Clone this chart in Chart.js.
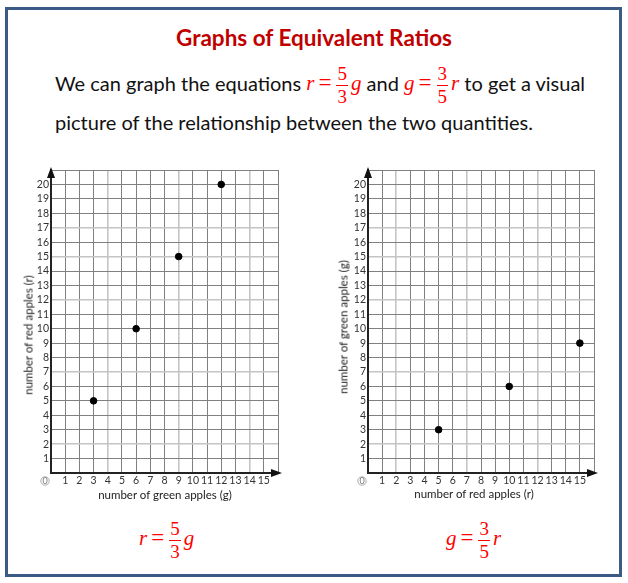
<!DOCTYPE html>
<html>
<head>
<meta charset="utf-8">
<script src="https://cdn.jsdelivr.net/npm/chart.js@4/dist/chart.umd.min.js"></script>
<style>
  html, body { margin: 0; padding: 0; background: #fff; }
  body { width: 628px; height: 583px; position: relative; overflow: hidden; font-family: Lato, "Open Sans", sans-serif; }
  #frame { position: absolute; left: 5px; top: 7px; width: 611px; height: 564px; border: 3px solid #3c5a86; }
  .abs { position: absolute; white-space: nowrap; }
  #title { left: 0; width: 628px; top: 24px; text-align: center; color: #c00000; font-weight: bold; font-size: 22.5px; }
  .para { left: 55px; font-size: 20px; color: #111; }
  .eq { font-family: "Liberation Serif", "DejaVu Serif", serif; font-style: italic; color: #ff0000; font-size: 21px; display: inline-block; vertical-align: middle; line-height: 20px; }
  .eq .op { font-style: normal; font-size: 23px; margin: 0 3px 0 4px; }
  .frac { display: inline-block; vertical-align: middle; text-align: center; font-style: normal; font-size: 19px; line-height: 20px; margin: 0 3px 0 2px; }
  .frac .num { display: block; border-bottom: 1px solid #ff0000; padding: 0 1px 1px; }
  .frac .den { display: block; padding-top: 1px; }
  canvas { position: absolute; }
  .axt { position: absolute; font-size: 11.5px; color: #222; white-space: nowrap; }
  .rot { transform-origin: center center; transform: translate(-50%, -50%) rotate(-90deg); }
  .hor { transform: translate(-50%, -50%); }
</style>
</head>
<body>
<div id="frame"></div>
<div id="title" class="abs">Graphs of Equivalent Ratios</div>
<div class="abs para" style="top:64px;">We can graph the equations <span class="eq">r<span class="op">=</span><span class="frac"><span class="num">5</span><span class="den">3</span></span>g</span> and <span class="eq">g<span class="op">=</span><span class="frac"><span class="num">3</span><span class="den">5</span></span>r</span> to get a visual</div>
<div class="abs para" style="top:110px;">picture of the relationship between the two quantities.</div>

<canvas id="c1" width="300" height="360" style="left:0px; top:150px;"></canvas>
<canvas id="c2" width="310" height="360" style="left:310px; top:150px;"></canvas>

<div class="axt rot" style="left:28px; top:335px;">number of red apples (r)</div>
<div class="axt hor" style="left:165px; top:494px;">number of green apples (g)</div>
<div class="axt rot" style="left:343px; top:327px;">number of green apples (g)</div>
<div class="axt hor" style="left:474px; top:493px;">number of red apples (r)</div>

<div class="abs" style="left:139px; top:519px;"><span class="eq">r<span class="op">=</span><span class="frac"><span class="num">5</span><span class="den">3</span></span>g</span></div>
<div class="abs" style="left:446px; top:519px;"><span class="eq">g<span class="op">=</span><span class="frac"><span class="num">3</span><span class="den">5</span></span>r</span></div>

<script>
// Data
const greenApples1 = [3, 6, 9, 12];
const redApples1   = [5, 10, 15, 20];
const redApples2   = [5, 10, 15];
const greenApples2 = [3, 6, 9];
const xTickLabels = [1,2,3,4,5,6,7,8,9,10,11,12,13,14,15];
const yTickLabels = [1,2,3,4,5,6,7,8,9,10,11,12,13,14,15,16,17,18,19,20];
const xMax = 16, yMax = 21;

const DARK = '#808080', LIGHT = '#c4c4c4';

const arrowPlugin = {
  id: 'arrows',
  afterDraw(chart) {
    const {ctx, chartArea: a} = chart;
    ctx.save();
    ctx.fillStyle = '#111';
    ctx.beginPath();
    ctx.moveTo(a.left, a.top - 3);
    ctx.lineTo(a.left - 4, a.top + 8);
    ctx.lineTo(a.left + 4, a.top + 8);
    ctx.closePath(); ctx.fill();
    ctx.beginPath();
    ctx.moveTo(a.right + 4, a.bottom);
    ctx.lineTo(a.right - 7, a.bottom - 4);
    ctx.lineTo(a.right - 7, a.bottom + 4);
    ctx.closePath(); ctx.fill();
    // origin label
    ctx.fillStyle = '#777';
    ctx.font = '9px Lato, sans-serif';
    ctx.textAlign = 'center'; ctx.textBaseline = 'middle';
    ctx.fillText('0', a.left - 6, a.bottom + 8);
    ctx.strokeStyle = '#999'; ctx.lineWidth = 0.8;
    ctx.beginPath(); ctx.arc(a.left - 6, a.bottom + 8, 4.2, 0, Math.PI * 2); ctx.stroke();
    ctx.restore();
  }
};

function makeChart(id, xs, ys, yAxisWidth, padRight, lightX, lightY) {
  const pts = xs.map((x, i) => ({x, y: ys[i]}));
  return new Chart(document.getElementById(id), {
    type: 'scatter',
    data: { datasets: [{ data: pts, backgroundColor: '#000', borderColor: '#000', pointRadius: 3.3, pointHoverRadius: 3.3 }] },
    options: {
      responsive: false, animation: false, devicePixelRatio: 1,
      layout: { padding: { left: 0, right: padRight, top: 20, bottom: 0 } },
      plugins: { legend: { display: false }, tooltip: { enabled: false } },
      scales: {
        x: {
          type: 'linear', min: 0, max: xMax,
          afterFit(s) { s.height = 37; s.paddingLeft = 0; s.paddingRight = 0; },
          ticks: { stepSize: 1, autoSkip: false, maxRotation: 0, padding: 1, color: '#333',
                   font: { family: 'Lato', size: 10.5 },
                   callback: v => xTickLabels.includes(v) ? String(v) : '' },
          grid: { drawTicks: false,
                  color: c => lightX.includes(c.tick.value) ? LIGHT : DARK,
                  lineWidth: c => lightX.includes(c.tick.value) ? 1.6 : 1 },
          border: { color: '#222', width: 2 }
        },
        y: {
          type: 'linear', min: 0, max: yMax,
          afterFit(s) { s.width = yAxisWidth; s.paddingTop = 0; s.paddingBottom = 0; },
          ticks: { stepSize: 1, autoSkip: false, padding: 2, color: '#333',
                   font: { family: 'Lato', size: 10.5 },
                   callback: v => yTickLabels.includes(v) ? String(v) : '' },
          grid: { drawTicks: false,
                  color: c => lightY.includes(c.tick.value) ? LIGHT : DARK,
                  lineWidth: c => lightY.includes(c.tick.value) ? 1.6 : 1 },
          border: { color: '#222', width: 2 }
        }
      }
    },
    plugins: [arrowPlugin]
  });
}

makeChart('c1', greenApples1, redApples1, 51, 22, [4, 9, 14], [2, 7, 12, 15, 17]);
makeChart('c2', redApples2, greenApples2, 58, 26, [2, 7, 12], [2, 7, 12, 15, 17]);
</script>
</body>
</html>
